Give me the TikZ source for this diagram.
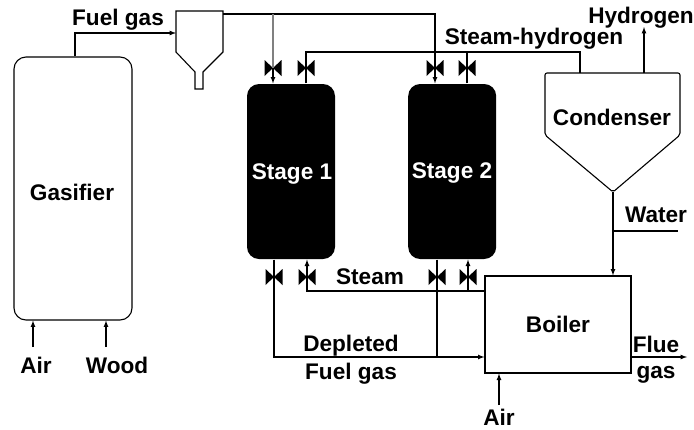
\documentclass[tikz,border=0pt]{standalone}
\usepackage{fontspec}
\setmainfont{Liberation Sans}
\usetikzlibrary{arrows, positioning}

\tikzset{
    line/.style={line width=1.2pt},
    vessel/.style={draw, line width=1.1pt, rounded corners=12pt, minimum width=118pt, minimum height=263pt},
    stage/.style={fill=black, text=white, rounded corners=12pt, minimum width=88pt, minimum height=175pt},
    unit/.style={draw, line width=1.2pt, minimum width=146pt, minimum height=97pt},
    label/.style={inner sep=0pt, font=\fontsize{22.6}{22.6}\selectfont\bfseries},
    valve/.pic={\fill (-8.5,-8) -- (8.5,8) -- (8.5,-8) -- (-8.5,8) -- cycle;}
}

\begin{document}
\begin{tikzpicture}[x=1pt, y=-1pt, >=latex, line]
    \useasboundingbox (0,0) rectangle (694,429);

    % Vessels
    \node [vessel] (gasifier) at (73,188.5) {};
    \node [stage] (stage1) at (291,171.5) {};
    \node [stage, right=72pt of stage1] (stage2) {};
    \node [unit] (boiler) at (558,324.5) {};
    \node [label] (gaslabel) at (72,192.5) {Gasifier};
    \node [label, text=white] (s1label) at (292,174) {Stage 1};
    \node [label, text=white] (s2label) at (452,172.5) {Stage 2};
    \node [label] (boilerlabel) at (558,324.5) {Boiler};

    % Cyclone and condenser
    \draw [line width=1.1pt] (176,11) -- (223,11) -- (223,52) -- (203,72) -- (203,89)
        -- (195,89) -- (195,72) -- (176,52) -- cycle;
    \coordinate (cyc_in) at (176,33);
    \coordinate (cyc_out) at (223,14);
    \draw [line width=1.1pt, rounded corners=2pt] (545,135) -- (545,73) -- (680,73) -- (680,135)
        -- (613,192) -- cycle;
    \node [label] (condenser) at (612,117) {Condenser};
    \coordinate (cond_bot) at (613,192);
    \coordinate (cond_steam) at (580,73);
    \coordinate (cond_h2) at (644,73);

    % Valves
    \coordinate (v1) at (273,68);
    \coordinate (v2) at (306,68);
    \coordinate (v3) at (435,68);
    \coordinate (v4) at (467,68);
    \coordinate (v5) at (274,277);
    \coordinate (v6) at (307,277);
    \coordinate (v7) at (437,277);
    \coordinate (v8) at (468,277);
    \foreach \v in {v1,v2,v3,v4,v5,v6,v7,v8}
        \pic at (\v) {valve};

    % Free ends
    \coordinate (h2_end) at (644,27);
    \coordinate (water_end) at (678,231);
    \coordinate (water_in) at (613,231);
    \coordinate (flue_end) at (687,357);
    \coordinate (boiler_air) at (499,405);
    \coordinate (gas_air) at (33,347);
    \coordinate (gas_wood) at (106,347);

    % Arrows and labels
    \draw [->] (gasifier.north -| 75,0) |- (cyc_in);
    \draw [->] (cyc_out) -| (stage2.north -| v3);
    \draw [line width=2.2pt, draw=black!50] (v1 |- cyc_out) -- (v1);
    \draw [->] (v1) -- (stage1.north -| v1);
    \draw (stage1.north -| v2) |- (cond_steam |- 0,52) -- (cond_steam);
    \draw (stage2.north -| v4) -- (v4 |- 0,52);
    \draw [->] (cond_h2) -- (h2_end);
    \draw [->] (cond_bot) -- (boiler.north -| cond_bot);
    \draw (water_in) -- (water_end);
    \draw [->] (boiler.west |- 0,291) -| (stage1.south -| v6);
    \draw [->] (v8 |- 0,291) -- (stage2.south -| v8);
    \draw [->] (stage1.south -| v5) |- (boiler.west |- 0,357);
    \draw (stage2.south -| v7) -- (v7 |- 0,357);
    \draw [->] (boiler.east |- flue_end) -- (flue_end);
    \draw [->] (boiler_air) -- (boiler.south -| boiler_air);
    \draw [->] (gas_air) -- (gasifier.south -| gas_air);
    \draw [->] (gas_wood) -- (gasifier.south -| gas_wood);

    \node [label] (fuel) at (118,20) {Fuel gas};
    \node [label] (steamh2) at (534,39) {Steam-hydrogen};
    \node [label] (h2) at (641,18) {Hydrogen};
    \node [label] (water) at (656,215) {Water};
    \node [label] (steam) at (370,277) {Steam};
    \node [label] (depleted) at (351,346) {Depleted};
    \node [label] (fuelgas) at (351,374) {Fuel gas};
    \node [label] (flue) at (656,344) {Flue};
    \node [label] (gas) at (656,375) {gas};
    \node [label] (air3) at (499,417) {Air};
    \node [label] (air1) at (36,365) {Air};
    \node [label] (wood) at (117,365) {Wood};
\end{tikzpicture}
\end{document}
